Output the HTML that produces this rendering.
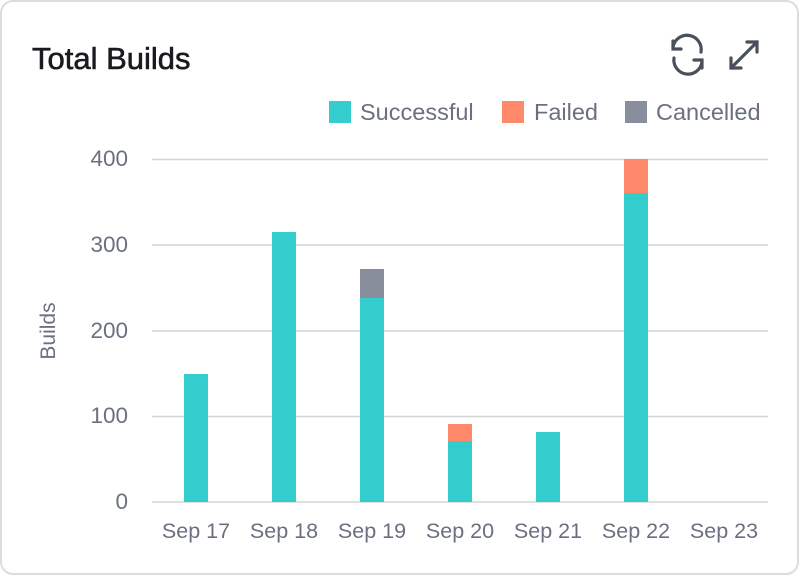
<!DOCTYPE html>
<html><head><style>
html,body{margin:0;padding:0;background:#fff;}
body{width:800px;height:576px;overflow:hidden;}
</style></head><body>
<svg width="800" height="576" viewBox="0 0 800 576" xmlns="http://www.w3.org/2000/svg" font-family="Liberation Sans, sans-serif">
<rect x="1" y="1" width="797" height="573" rx="12" fill="#fff" stroke="#dcdce0" stroke-width="2"/>
<text x="32" y="69" font-size="31" fill="#1a1a1f" stroke="#1a1a1f" stroke-width="0.6">Total Builds</text>
<g fill="none" stroke="#4a4f5c" stroke-width="3.2" stroke-linecap="round">
<path d="M673 47 A14 14 0 0 1 701 52"/>
<path d="M702 62 A14 14 0 0 1 674 58"/>
<path d="M673 41 V49 H681"/>
<path d="M702 68 V60 H694"/>
<path d="M731 68 L757 42"/><path d="M747 42 H757 V52"/><path d="M731 58 V68 H741"/>
</g>
<g font-size="23.5" fill="#6b7080">
<rect x="329" y="101" width="22" height="22" fill="#33cdcd"/><text x="360" y="120">Successful</text>
<rect x="502" y="101" width="22" height="22" fill="#ff8a6b"/><text x="534" y="120">Failed</text>
<rect x="625" y="101" width="22" height="22" fill="#898e9d"/><text x="656" y="120">Cancelled</text>
</g>
<g stroke="#d5d6da" stroke-width="1.5">
<line x1="152" y1="159.5" x2="768" y2="159.5"/><line x1="152" y1="245" x2="768" y2="245"/>
<line x1="152" y1="331" x2="768" y2="331"/><line x1="152" y1="416.5" x2="768" y2="416.5"/>
<line x1="152" y1="502" x2="768" y2="502"/>
</g>
<g font-size="22.5" fill="#6b7080" text-anchor="end">
<text x="128" y="166">400</text><text x="128" y="252">300</text><text x="128" y="338">200</text>
<text x="128" y="423">100</text><text x="128" y="509">0</text>
</g>
<text transform="translate(55 331) rotate(-90)" font-size="21" fill="#6b7080" text-anchor="middle">Builds</text>
<g fill="#33cdcd">
<rect x="184" y="374" width="24" height="128"/>
<rect x="272" y="232" width="24" height="270"/>
<rect x="360" y="298" width="24" height="204"/>
<rect x="448" y="441" width="24" height="61"/>
<rect x="536" y="432" width="24" height="70"/>
<rect x="624" y="193" width="24" height="309"/>
</g>
<rect x="360" y="269" width="24" height="29" fill="#898e9d"/>
<rect x="448" y="424" width="24" height="17" fill="#ff8a6b"/>
<rect x="624" y="159" width="24" height="34" fill="#ff8a6b"/>
<g font-size="21.5" fill="#6b7080" text-anchor="middle">
<text x="196" y="538">Sep 17</text><text x="284" y="538">Sep 18</text><text x="372" y="538">Sep 19</text>
<text x="460" y="538">Sep 20</text><text x="548" y="538">Sep 21</text><text x="636" y="538">Sep 22</text>
<text x="724" y="538">Sep 23</text>
</g>
</svg>
</body></html>
